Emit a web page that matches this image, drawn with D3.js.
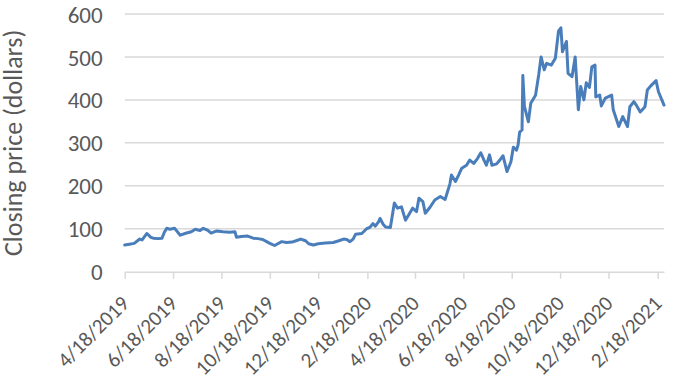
<!DOCTYPE html>
<html>
<head>
<meta charset="utf-8">
<script src="https://cdn.jsdelivr.net/npm/d3@7"></script>
<style>
  body { margin: 0; background: #fff; }
  #chart text { font-family: Calibri, Carlito, "Liberation Sans", sans-serif; fill: #595959; }
</style>
</head>
<body>
<div id="chart"></div>
<script>
// closing prices (roughly weekly + the big moves)
const dates = [
  "2019-04-18","2019-04-24","2019-04-30","2019-05-07","2019-05-10","2019-05-16","2019-05-21","2019-05-24","2019-05-30",
  "2019-06-04","2019-06-07","2019-06-10","2019-06-14","2019-06-20","2019-06-27","2019-07-05","2019-07-11","2019-07-16",
  "2019-07-22","2019-07-26","2019-08-01","2019-08-05","2019-08-12","2019-08-20","2019-08-28","2019-09-04","2019-09-06",
  "2019-09-12","2019-09-20","2019-09-27","2019-10-03","2019-10-09","2019-10-14","2019-10-18","2019-10-24","2019-10-28",
  "2019-11-02","2019-11-08","2019-11-15","2019-11-20","2019-11-26","2019-12-02","2019-12-06","2019-12-12","2019-12-18",
  "2019-12-27","2020-01-06","2020-01-13","2020-01-19","2020-01-23","2020-01-27","2020-01-31","2020-02-03","2020-02-11",
  "2020-02-17","2020-02-21","2020-02-25","2020-02-28","2020-03-03","2020-03-05","2020-03-09","2020-03-12","2020-03-18",
  "2020-03-23","2020-03-27","2020-04-01","2020-04-06","2020-04-10","2020-04-15","2020-04-20","2020-04-23","2020-04-28",
  "2020-05-01","2020-05-07","2020-05-13","2020-05-20","2020-05-26","2020-06-01","2020-06-03","2020-06-08","2020-06-12",
  "2020-06-16","2020-06-22","2020-06-26","2020-07-01","2020-07-06","2020-07-10","2020-07-14","2020-07-17","2020-07-21",
  "2020-07-24","2020-07-30","2020-08-03","2020-08-07","2020-08-12","2020-08-17","2020-08-20","2020-08-24","2020-08-26",
  "2020-08-28","2020-08-31","2020-09-01","2020-09-03","2020-09-08","2020-09-11","2020-09-17","2020-09-21","2020-09-24",
  "2020-09-28","2020-10-01","2020-10-07","2020-10-12","2020-10-16","2020-10-19","2020-10-21","2020-10-26","2020-10-28",
  "2020-11-02","2020-11-06","2020-11-10","2020-11-13","2020-11-17","2020-11-20","2020-11-24","2020-11-27","2020-12-01",
  "2020-12-02","2020-12-07","2020-12-09","2020-12-14","2020-12-22","2020-12-24","2020-12-31","2021-01-05","2021-01-11",
  "2021-01-14","2021-01-19","2021-01-22","2021-01-27","2021-02-02","2021-02-05","2021-02-09","2021-02-16","2021-02-19",
  "2021-02-26"
];
const closes = [
  62, 64, 66, 76, 74, 89, 80, 78, 77,
  78, 92, 101, 99, 101, 85, 90, 93, 99,
  96, 101, 96, 90, 95, 93, 92, 93, 80,
  82, 83, 78, 77, 75, 70, 66, 61, 65,
  70, 68, 69, 72, 76, 72, 65, 62, 65,
  67, 68, 72, 76, 75, 70, 76, 87, 89,
  100, 103, 112, 106, 116, 124, 110, 104, 103,
  160, 148, 151, 120, 132, 148, 140, 171, 163,
  136, 150, 167, 175, 168, 204, 225, 210, 225,
  241, 248, 260, 252, 264, 277, 260, 248, 272,
  248, 251, 260, 270, 233, 256, 290, 283, 295,
  325, 330, 457, 385, 349, 392, 411, 458, 500,
  470, 485, 481, 497, 560, 568, 512, 536, 462,
  454, 500, 377, 431, 400, 440, 429, 477, 481,
  407, 411, 386, 404, 411, 377, 338, 361, 338,
  384, 396, 388, 372, 384, 423, 432, 445, 419,
  388
];
const yTicks = [0, 100, 200, 300, 400, 500, 600];
const xTickDates = ["2019-04-18","2019-06-18","2019-08-18","2019-10-18","2019-12-18","2020-02-18",
  "2020-04-18","2020-06-18","2020-08-18","2020-10-18","2020-12-18","2021-02-18"];
const yTitle = "Closing price (dollars)";

const parse = d3.timeParse("%Y-%m-%d");
const data = dates.map((d, i) => ({ date: parse(d), close: closes[i] }));

const width = 673, height = 383;
const svg = d3.select("#chart").append("svg")
  .attr("width", width)
  .attr("height", height);

// plot area edges
const plotLeft = 124.7, plotRight = 664, plotTop = 14, plotBottom = 271.7;

const x = d3.scaleTime()
  .domain(d3.extent(data, d => d.date))
  .range([plotLeft, plotRight]);

const y = d3.scaleLinear()
  .domain([0, 600])
  .range([plotBottom, plotTop]);

// horizontal gridlines (not at 0, the axis line covers that)
svg.selectAll(".grid")
  .data(yTicks.filter(t => t > 0))
  .enter().append("line")
  .attr("class", "grid")
  .attr("x1", plotLeft).attr("x2", plotRight)
  .attr("y1", d => y(d)).attr("y2", d => y(d))
  .attr("stroke", "#d9d9d9")
  .attr("stroke-width", 1.5);

// y axis labels
const yAxis = d3.axisLeft(y).tickValues(yTicks).tickSize(0).tickPadding(22);
svg.append("g")
  .attr("transform", `translate(${plotLeft},0)`)
  .call(yAxis)
  .call(g => g.select(".domain").remove())
  .selectAll("text")
  .attr("dy", "0.35em")
  .style("font-size", "23px");

// x axis: date ticks every 2 months on the 18th
const fmt = d => `${d.getMonth() + 1}/${d.getDate()}/${d.getFullYear()}`;
const xAxis = d3.axisBottom(x)
  .tickValues(xTickDates.map(parse))
  .tickFormat(fmt)
  .tickSize(7)
  .tickSizeOuter(0);

const gx = svg.append("g")
  .attr("transform", `translate(0,${plotBottom})`)
  .call(xAxis);
gx.select(".domain").attr("stroke", "#d9d9d9").attr("stroke-width", 1.5);
gx.selectAll(".tick line").attr("stroke", "#d9d9d9").attr("stroke-width", 1.5);
gx.selectAll(".tick text")
  .attr("text-anchor", "end")
  .attr("y", 0).attr("dy", 0)
  .attr("transform", "translate(5,33) rotate(-45)")
  .style("font-size", "21px");

// the price line
const line = d3.line()
  .x(d => x(d.date))
  .y(d => y(d.close));

svg.append("path")
  .datum(data)
  .attr("fill", "none")
  .attr("stroke", "#4a7ebb")
  .attr("stroke-width", 3)
  .attr("stroke-linejoin", "round")
  .attr("stroke-linecap", "round")
  .attr("d", line);

// y title
svg.append("text")
  .attr("transform", `translate(22,${(plotTop + plotBottom) / 2}) rotate(-90)`)
  .attr("text-anchor", "middle")
  .style("font-size", "26px")
  .text(yTitle);
</script>
</body>
</html>
